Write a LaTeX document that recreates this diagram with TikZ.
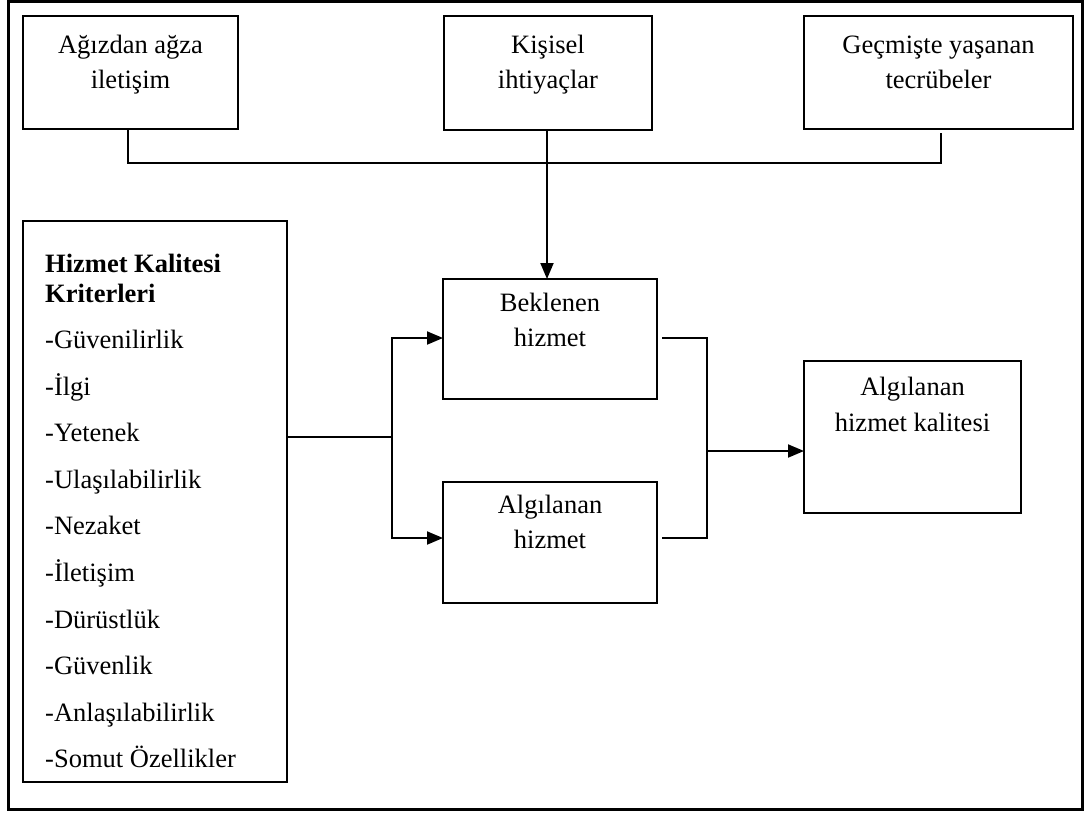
\documentclass[tikz,border=0pt]{standalone}
\usepackage{fontspec}
\setmainfont{Liberation Serif}
\usetikzlibrary{arrows.meta}
\begin{document}
\begin{tikzpicture}[x=1pt,y=-1pt,
  box/.style={draw, line width=1.9pt, rectangle, inner sep=0pt, outer sep=0pt, anchor=north west},
  txt/.style={inner sep=0pt, anchor=base, font=\fontsize{26.5}{32}\selectfont},
  ltxt/.style={txt, anchor=base west},
  wire/.style={line width=1.9pt},
  arr/.style={wire, -{Triangle[length=16pt,width=13pt]}}]

\useasboundingbox (0,0) rectangle (1084,812);
\draw[line width=2.2pt] (8.5,1.5) rectangle (1082.5,809.5);

% boxes
\node[box, minimum width=215pt, minimum height=113pt] (A) at (23,16) {};
\node[box, minimum width=208pt, minimum height=114pt] (K) at (444,16) {};
\node[box, minimum width=269pt, minimum height=113pt] (G) at (804,16) {};
\node[box, minimum width=264pt, minimum height=561pt] (C) at (23,221) {};
\node[box, minimum width=214pt, minimum height=120pt] (B) at (443,279) {};
\node[box, minimum width=214pt, minimum height=121pt] (H) at (443,482) {};
\node[box, minimum width=217pt, minimum height=152pt] (Q) at (804,361) {};

% box texts
\node[txt] (a1) at (130.5,53) {Ağızdan ağza};
\node[txt] (a2) at (130.5,88) {iletişim};
\node[txt] (k1) at (548,53) {Kişisel};
\node[txt] (k2) at (548,88) {ihtiyaçlar};
\node[txt] (g1) at (938.5,53) {Geçmişte yaşanan};
\node[txt] (g2) at (938.5,88) {tecrübeler};
\node[txt] (b1) at (550,311) {Beklenen};
\node[txt] (b2) at (550,346) {hizmet};
\node[txt] (h1) at (550,513) {Algılanan};
\node[txt] (h2) at (550,548) {hizmet};
\node[txt] (q1) at (912.5,395) {Algılanan};
\node[txt] (q2) at (912.5,431) {hizmet kalitesi};

% criteria list
\node[ltxt, font=\fontsize{26.5}{32}\selectfont\bfseries] (c0) at (45,272) {Hizmet Kalitesi};
\node[ltxt, font=\fontsize{26.5}{32}\selectfont\bfseries] (c00) at (45,302) {Kriterleri};
\foreach \t [count=\i from 0] in {-Güvenilirlik,-İlgi,-Yetenek,-Ulaşılabilirlik,-Nezaket,-İletişim,-Dürüstlük,-Güvenlik,-Anlaşılabilirlik,-Somut Özellikler}
  \node[ltxt] (c\i x) at (45,348.5+46.6*\i) {\t};

% top collector
\coordinate (ja) at (128,163);
\coordinate (jg) at (941,163);
\coordinate (jgs) at (941,133);
\draw[wire] (A.south -| ja) -- (ja) -- (jg) -- (jgs);
\draw[arr] (K.south -| 547,0) -- (547,0 |- B.north);

% split into expected / perceived service
\coordinate (split) at (392,437);
\coordinate (sb) at (392,338);
\coordinate (sh) at (392,538);
\draw[wire] (C.east |- split) -- (split);
\draw[arr] (split) -- (sb) -- (sb -| B.west);
\draw[arr] (split) -- (sh) -- (sh -| H.west);

% merge into perceived quality
\coordinate (bo) at ([xshift=5pt]B.east);
\coordinate (ho) at ([xshift=5pt]H.east);
\coordinate (mb) at (707,338);
\coordinate (mh) at (707,538);
\coordinate (mq) at (707,451);
\draw[wire] (bo |- mb) -- (mb) -- (mh) -- (ho |- mh);
\draw[arr] (mq) -- (mq -| Q.west);
\end{tikzpicture}
\end{document}
